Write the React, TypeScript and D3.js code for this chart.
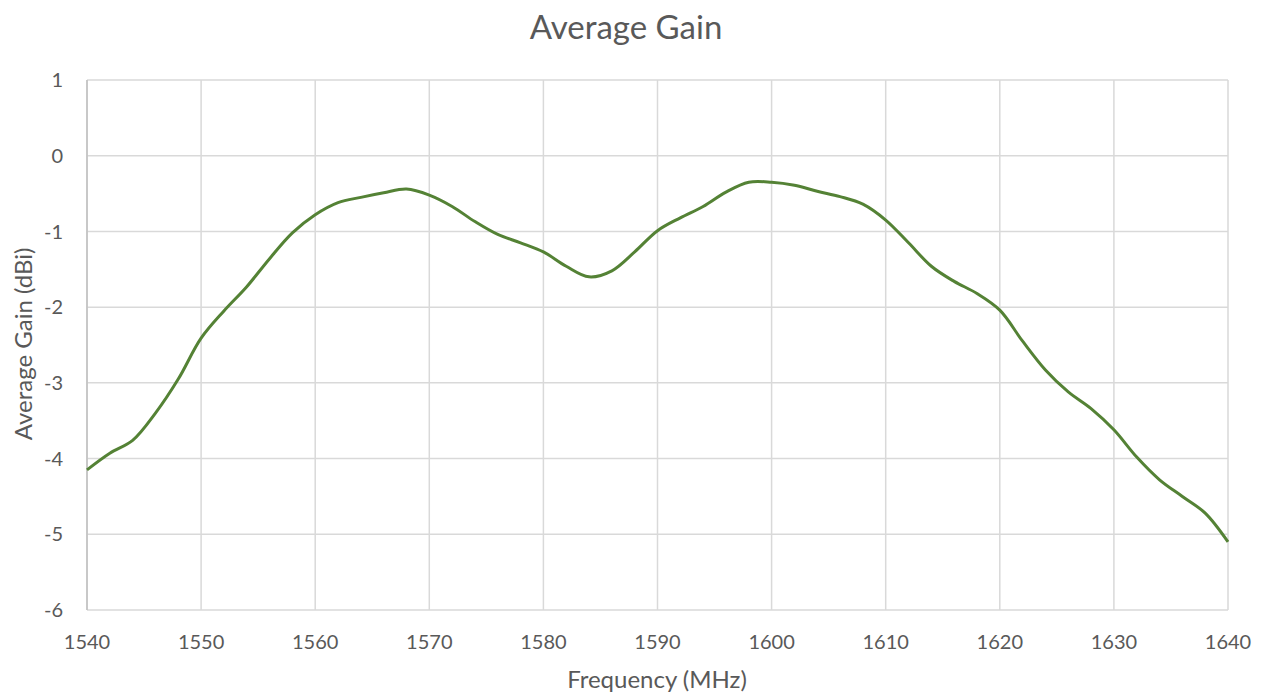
import React from 'react';
import * as d3 from 'd3';

// frequency in MHz, gain in dBi
const freqs = [
  1540, 1542, 1544, 1546, 1548, 1550, 1552, 1554, 1556, 1558, 1560, 1562, 1564, 1566, 1568, 1570, 1572,
  1574, 1576, 1578, 1580, 1582, 1584, 1586, 1588, 1590, 1592, 1594, 1596, 1598, 1600, 1602, 1604, 1606,
  1608, 1610, 1612, 1614, 1616, 1618, 1620, 1622, 1624, 1626, 1628, 1630, 1632, 1634, 1636, 1638, 1640,
];
const gains = [
  -4.15, -3.93, -3.76, -3.4, -2.95, -2.41, -2.05, -1.73, -1.36, -1.02, -0.78, -0.62, -0.55, -0.49, -0.44,
  -0.52, -0.67, -0.87, -1.04, -1.15, -1.27, -1.46, -1.6, -1.52, -1.27, -0.99, -0.82, -0.67, -0.48, -0.35,
  -0.35, -0.39, -0.47, -0.54, -0.64, -0.85, -1.15, -1.46, -1.66, -1.82, -2.04, -2.45, -2.83, -3.12, -3.34,
  -3.62, -3.98, -4.28, -4.5, -4.72, -5.1,
];
const xTicks = [1540, 1550, 1560, 1570, 1580, 1590, 1600, 1610, 1620, 1630, 1640];
const yTicks = [1, 0, -1, -2, -3, -4, -5, -6];

const W = 1265;
const H = 697;
const margin = { left: 87, right: 37, top: 80, bottom: 87 };
const font = 'Lato, "Open Sans", sans-serif';
const textColor = '#595959';

export default function App() {
  const x = d3.scaleLinear().domain([1540, 1640]).range([margin.left, W - margin.right]);
  const y = d3.scaleLinear().domain([-6, 1]).range([H - margin.bottom, margin.top]);

  const line = d3
    .line<number>()
    .x((_, i) => x(freqs[i]))
    .y((d) => y(d))
    .curve(d3.curveCatmullRom.alpha(0.5));

  return (
    <svg
      width={W}
      height={H}
      style={{ position: 'absolute', left: 0, top: 0, background: '#fff' }}
      fontFamily={font}
    >
      {/* grid */}
      <g stroke="#d9d9d9" strokeWidth={1.5}>
        {xTicks.map((t) => (
          <line key={'x' + t} x1={x(t)} x2={x(t)} y1={y(1)} y2={y(-6)} />
        ))}
        {yTicks.map((t) => (
          <line key={'y' + t} x1={x(1540)} x2={x(1640)} y1={y(t)} y2={y(t)} />
        ))}
      </g>
      <line x1={x(1540)} x2={x(1540)} y1={y(1)} y2={y(-6)} stroke="#bfbfbf" strokeWidth={1.5} />

      <path d={line(gains) ?? ''} fill="none" stroke="#548235" strokeWidth={3} strokeLinejoin="round" />

      {/* tick labels */}
      <g fill={textColor} fontSize={20}>
        {yTicks.map((t) => (
          <text key={'yl' + t} x={63} y={y(t)} dy="0.36em" textAnchor="end">
            {t}
          </text>
        ))}
        {xTicks.map((t) => (
          <text key={'xl' + t} x={x(t)} y={649} textAnchor="middle">
            {t}
          </text>
        ))}
      </g>

      <text x={626} y={39} textAnchor="middle" fontSize={33} fill={textColor}>
        Average Gain
      </text>
      <text x={657} y={688} textAnchor="middle" fontSize={24} fill={textColor}>
        Frequency (MHz)
      </text>
      <text
        transform={`translate(32, 344) rotate(-90)`}
        textAnchor="middle"
        fontSize={24}
        fill={textColor}
      >
        Average Gain (dBi)
      </text>
    </svg>
  );
}
